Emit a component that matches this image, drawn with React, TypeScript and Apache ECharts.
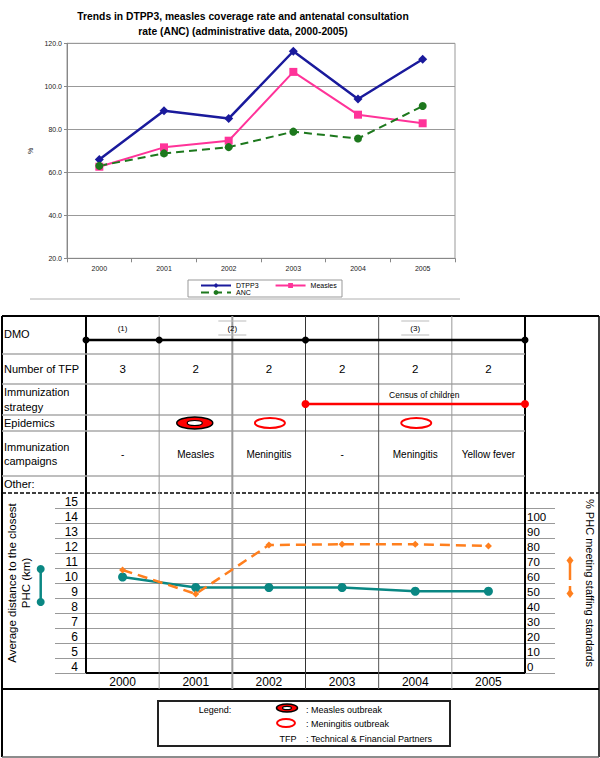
import React, { useEffect, useRef } from 'react';
import * as echarts from 'echarts';

// ---------- data ----------
const years = ['2000', '2001', '2002', '2003', '2004', '2005'];
const dtpp3 = [66.0, 88.6, 85.0, 116.3, 94.1, 112.6];
const measles = [62.6, 71.6, 74.7, 106.7, 86.8, 82.8];
const anc = [63.0, 68.8, 71.7, 78.9, 75.7, 90.8];

const distanceKm = [10.4, 9.7, 9.7, 9.7, 9.45, 9.45];
const phcStaffingPct = [68.7, 52.7, 85.3, 85.8, 85.8, 84.7];

const tfpCounts = ['3', '2', '2', '2', '2', '2'];
const campaigns = ['-', 'Measles', 'Meningitis', '-', 'Meningitis', 'Yellow fever'];
const epidemics = ['', 'measles', 'meningitis', '', 'meningitis', ''];
const dmoPeriods = [
  { label: '(1)', from: 0, to: 1, boxed: false },
  { label: '(2)', from: 1, to: 3, boxed: true },
  { label: '(3)', from: 3, to: 6, boxed: true },
];
const strategy = { label: 'Census of children', from: 3, to: 6 };

const title1 = 'Trends in DTPP3, measles coverage rate and antenatal consultation';
const title2 = 'rate (ANC) (administrative data, 2000-2005)';

const F = 'Arial, "Liberation Sans", Helvetica, sans-serif';

// ---------- layout helpers ----------
const TX0 = 86;
const TX1 = 525;
const CW = (TX1 - TX0) / years.length;
const bx = (i: number) => TX0 + CW * i;
const cx = (i: number) => TX0 + CW * (i + 0.5);

const T = (x: number, y: number, text: string, size: number, extra: any = {}) => ({
  type: 'text',
  x,
  y,
  z: 10,
  rotation: extra.rotation || 0,
  style: {
    text,
    fontSize: size,
    fontFamily: F,
    fill: extra.fill || '#000',
    fontWeight: extra.bold ? 'bold' : 'normal',
    align: extra.align || 'left',
    verticalAlign: 'middle',
    textAlign: extra.align || 'left',
    textVerticalAlign: 'middle',
  },
});

const L = (x1: number, y1: number, x2: number, y2: number, stroke: string, lineWidth: number, dash?: number[], z = 1) => ({
  type: 'line',
  z,
  shape: { x1, y1, x2, y2 },
  style: { stroke, lineWidth, lineDash: dash || null },
});

const C = (x: number, y: number, r: number, fill: string, z = 10) => ({
  type: 'circle',
  z,
  shape: { cx: x, cy: y, r },
  style: { fill },
});

const measlesIcon = (x: number, y: number, rx: number, ry: number) => [
  { type: 'ellipse', z: 10, shape: { cx: x, cy: y, rx, ry }, style: { fill: '#ff0000', stroke: '#000', lineWidth: 1.5 } },
  { type: 'ellipse', z: 11, shape: { cx: x, cy: y, rx: rx * 0.42, ry: ry * 0.42 }, style: { fill: '#fff', stroke: '#000', lineWidth: 1.2 } },
];
const meningitisIcon = (x: number, y: number, rx: number, ry: number) => ({
  type: 'ellipse',
  z: 10,
  shape: { cx: x, cy: y, rx, ry },
  style: { fill: '#fff', stroke: '#ff0000', lineWidth: 2 },
});

function buildGraphics() {
  const g: any[] = [];
  // top title
  g.push(T(243, 16, title1, 10.3, { bold: true, align: 'center' }));
  g.push(T(243, 31, title2, 10.3, { bold: true, align: 'center' }));
  // separator under top chart
  g.push(L(30, 299, 460, 299, '#b0b0b0', 1));
  // top legend box
  g.push({ type: 'rect', z: 3, shape: { x: 188, y: 280, width: 154, height: 17 }, style: { fill: '#fff', stroke: '#999', lineWidth: 1 } });

  // outer frame and table lines
  g.push(L(2, 316, 599, 316, '#000', 2));
  g.push(L(2, 316, 2, 757, '#000', 2));
  g.push(L(599, 316, 599, 757, '#000', 1.5));
  g.push(L(2, 757, 599, 757, '#666', 1.5));
  g.push(L(TX0, 316, TX0, 673, '#000', 2));
  g.push(L(TX1, 316, TX1, 673, '#000', 2));
  [354, 384, 415, 431, 476].forEach((y) => g.push(L(2, y, TX1, y, '#a8a8a8', 1.5)));
  g.push(L(2, 493, 599, 493, '#000', 1.5, [4, 2]));
  g.push(L(2, 689, 599, 689, '#000', 2));
  const colStyles = [
    null,
    { c: '#999', w: 1 },
    { c: '#9a9a9a', w: 2 },
    { c: '#333', w: 1 },
    { c: '#555', w: 1 },
    { c: '#999', w: 1 },
  ];
  for (let i = 1; i < years.length; i++) {
    const s = colStyles[i] as any;
    g.push(L(bx(i), 316, bx(i), 689, s.c, s.w));
  }

  // row labels
  g.push(T(4, 334, 'DMO', 11));
  g.push(T(4, 369, 'Number of TFP', 11));
  g.push(T(4, 392, 'Immunization', 11));
  g.push(T(4, 407, 'strategy', 11));
  g.push(T(4, 423, 'Epidemics', 11));
  g.push(T(4, 447, 'Immunization', 11));
  g.push(T(4, 461, 'campaigns', 11));
  g.push(T(4, 484, 'Other:', 11));

  // DMO timeline
  g.push(L(TX0, 340, TX1, 340, '#000', 2.5, undefined, 9));
  const dmoDots = new Set<number>();
  dmoPeriods.forEach((p) => {
    dmoDots.add(p.from);
    dmoDots.add(p.to);
    const mx = (bx(p.from) + bx(p.to)) / 2;
    g.push(T(mx, 328, p.label, 8, { align: 'center' }));
    if (p.boxed) {
      g.push(L(mx - 14, 321, mx + 14, 321, '#bbb', 1, undefined, 9));
      g.push(L(mx - 14, 335, mx + 14, 335, '#bbb', 1, undefined, 9));
    }
  });
  dmoDots.forEach((i) => g.push(C(bx(i), 340, 3.5, '#000')));

  // number of TFP
  tfpCounts.forEach((v, i) => g.push(T(cx(i), 369, v, 11.5, { align: 'center' })));

  // immunization strategy
  g.push(L(bx(strategy.from), 404, bx(strategy.to), 404, '#ff0000', 2.5, undefined, 9));
  g.push(C(bx(strategy.from), 404, 4, '#ff0000'));
  g.push(C(bx(strategy.to), 404, 4, '#ff0000'));
  g.push(T((bx(strategy.from) + bx(strategy.to)) / 2 + 9, 395, strategy.label, 8.5, { align: 'center' }));

  // epidemics
  epidemics.forEach((e, i) => {
    if (e === 'measles') measlesIcon(cx(i) - 1, 423, 18, 6).forEach((o) => g.push(o));
    if (e === 'meningitis') g.push(meningitisIcon(cx(i) + 1, 423, 15, 5));
  });

  // campaigns
  campaigns.forEach((v, i) => g.push(T(cx(i), 454, v, 10, { align: 'center' })));

  // bottom chart side labels & icons
  g.push(T(12, 583, 'Average distance to the closest', 11.5, { align: 'center', rotation: Math.PI / 2 }));
  g.push(T(25.5, 583, 'PHC (km)', 11.5, { align: 'center', rotation: Math.PI / 2 }));
  g.push(L(40.7, 569, 40.7, 602, '#0a8783', 2.5, undefined, 9));
  g.push(C(40.7, 569, 4, '#0a8783'));
  g.push(C(40.7, 602, 4, '#0a8783'));

  g.push(T(590, 583, '% PHC meeting staffing standards', 11, { align: 'center', rotation: -Math.PI / 2 }));
  g.push(L(570, 561, 570, 580, '#ff7f1e', 2.5, undefined, 9));
  g.push(L(570, 586, 570, 593, '#ff7f1e', 2.5, undefined, 9));
  g.push({ type: 'polygon', z: 10, shape: { points: [[570, 556], [573.5, 560.5], [570, 565], [566.5, 560.5]] }, style: { fill: '#ff7f1e' } });
  g.push({ type: 'polygon', z: 10, shape: { points: [[570, 589], [573.5, 593.5], [570, 598], [566.5, 593.5]] }, style: { fill: '#ff7f1e' } });

  // bottom legend
  g.push({ type: 'rect', z: 9, shape: { x: 158, y: 701, width: 292, height: 45 }, style: { fill: 'none', stroke: '#222', lineWidth: 2 } });
  g.push(T(215, 710, 'Legend:', 9, { align: 'center' }));
  measlesIcon(287, 708, 10.5, 4).forEach((o) => g.push(o));
  g.push(T(306, 710, ': Measles outbreak', 9));
  g.push(meningitisIcon(286, 723, 9, 4));
  g.push(T(306, 724, ': Meningitis outbreak', 9));
  g.push(T(288, 739, 'TFP', 9, { align: 'center' }));
  g.push(T(306, 739, ': Technical & Financial Partners', 9));
  return g;
}

function buildOption(): any {
  const legendText = { fontSize: 7, fontFamily: F, color: '#000' };
  return {
    animation: false,
    backgroundColor: '#fff',
    textStyle: { fontFamily: F },
    grid: [
      { left: 67, top: 43.3, width: 388, height: 215, show: true, borderColor: '#999', borderWidth: 1, backgroundColor: 'transparent', outerBoundsMode: 'none', containLabel: false },
      { left: TX0, top: 508, width: TX1 - TX0, height: 165, outerBoundsMode: 'none', containLabel: false },
    ],
    xAxis: [
      {
        type: 'category', gridIndex: 0, data: years, boundaryGap: true,
        axisLine: { show: true, lineStyle: { color: '#888', width: 1 } },
        axisTick: { show: true, length: 4, lineStyle: { color: '#888' } },
        axisLabel: { fontSize: 7, margin: 7, color: '#222', fontFamily: F },
        splitLine: { show: false },
      },
      {
        type: 'category', gridIndex: 1, data: years, boundaryGap: true,
        axisLine: { show: true, lineStyle: { color: '#000', width: 2 } },
        axisTick: { show: false },
        axisLabel: { fontSize: 12, margin: 3, color: '#000', fontFamily: F },
        splitLine: { show: false },
      },
    ],
    yAxis: [
      {
        type: 'value', gridIndex: 0, min: 20, max: 120, interval: 20,
        name: '%', nameLocation: 'middle', nameGap: 33, nameRotate: 90,
        nameTextStyle: { fontSize: 7, fontFamily: F, color: '#222' },
        axisLine: { show: true, lineStyle: { color: '#888' } },
        axisTick: { show: true, length: 3, lineStyle: { color: '#888' } },
        axisLabel: { fontSize: 7, margin: 5, color: '#222', fontFamily: F, formatter: (v: number) => v.toFixed(1) },
        splitLine: { show: true, lineStyle: { color: '#999', width: 1 } },
      },
      {
        type: 'value', gridIndex: 1, position: 'left', min: 4, max: 15, interval: 1,
        axisLine: { show: true, lineStyle: { color: '#000', width: 2 } },
        axisTick: { show: true, length: 31, lineStyle: { color: '#999', width: 1 } },
        axisLabel: { fontSize: 12, margin: 8, color: '#000', fontFamily: F, verticalAlign: 'bottom' },
        splitLine: { show: true, lineStyle: { color: '#999', width: 1 } },
      },
      {
        type: 'value', gridIndex: 1, position: 'right', min: 0, max: 110, interval: 10,
        axisLine: { show: true, lineStyle: { color: '#000', width: 2 } },
        axisTick: { show: true, length: 30, lineStyle: { color: '#999', width: 1 } },
        axisLabel: {
          fontSize: 11.5, margin: 2, color: '#000', fontFamily: F, verticalAlign: 'bottom',
          formatter: (v: number) => (v > 100 ? '' : String(v)),
        },
        splitLine: { show: false },
      },
    ],
    legend: [
      { data: ['DTPP3', 'Measles'], left: 200, top: 282, itemWidth: 30, itemHeight: 6, itemGap: 16, padding: 0, textStyle: legendText },
      { data: ['ANC'], left: 200, top: 289, itemWidth: 30, itemHeight: 6, padding: 0, textStyle: legendText },
    ],
    series: [
      {
        name: 'DTPP3', type: 'line', xAxisIndex: 0, yAxisIndex: 0, data: dtpp3,
        symbol: 'diamond', symbolSize: 9,
        lineStyle: { color: '#1a1a9c', width: 2.5 }, itemStyle: { color: '#1a1a9c' },
      },
      {
        name: 'Measles', type: 'line', xAxisIndex: 0, yAxisIndex: 0, data: measles,
        symbol: 'rect', symbolSize: 8,
        lineStyle: { color: '#ff3399', width: 2 }, itemStyle: { color: '#ff3399' },
      },
      {
        name: 'ANC', type: 'line', xAxisIndex: 0, yAxisIndex: 0, data: anc,
        symbol: 'circle', symbolSize: 8,
        lineStyle: { color: '#1d781d', width: 2, type: [8, 5] }, itemStyle: { color: '#1d781d' },
      },
      {
        name: 'Average distance to the closest PHC (km)', type: 'line', xAxisIndex: 1, yAxisIndex: 1, data: distanceKm,
        symbol: 'circle', symbolSize: 9,
        lineStyle: { color: '#0a8783', width: 2.5 }, itemStyle: { color: '#0a8783' },
      },
      {
        name: '% PHC meeting staffing standards', type: 'line', xAxisIndex: 1, yAxisIndex: 2, data: phcStaffingPct,
        symbol: 'diamond', symbolSize: 7,
        lineStyle: { color: '#ff7f1e', width: 2.5, type: [10, 6] }, itemStyle: { color: '#ff7f1e' },
      },
    ],
    graphic: { elements: buildGraphics() },
  };
}

export default function App() {
  const ref = useRef<HTMLDivElement>(null);
  useEffect(() => {
    document.body.style.margin = '0';
    if (!ref.current) return;
    const chart = echarts.init(ref.current, undefined, { renderer: 'svg' });
    chart.setOption(buildOption());
    return () => chart.dispose();
  }, []);
  return (
    <div
      ref={ref}
      style={{ position: 'absolute', left: 0, top: 0, width: 600, height: 758, background: '#fff' }}
    />
  );
}
